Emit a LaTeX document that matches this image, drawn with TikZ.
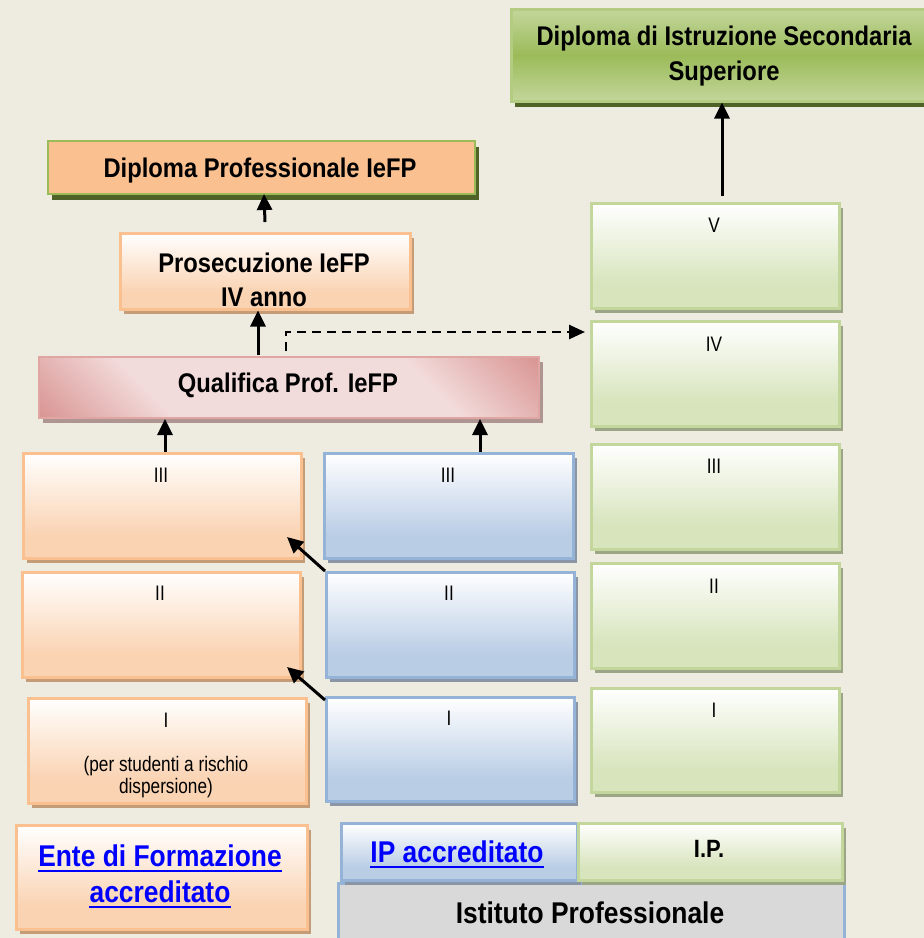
\documentclass[tikz,border=0pt]{standalone}
\usepackage{fontspec}
\newfontfamily\bigf{Liberation Sans}[FakeStretch=0.88]
\newfontfamily\smallf{Liberation Sans}[FakeStretch=0.82]
\usetikzlibrary{arrows.meta,shadows}
\definecolor{bg}{HTML}{EEECE1}
\definecolor{oB}{HTML}{FAC090}
\definecolor{oF}{HTML}{FAD3B2}
\definecolor{oS}{HTML}{C49C78}
\definecolor{bB}{HTML}{95B3D7}
\definecolor{bF}{HTML}{B9CDE5}
\definecolor{bS}{HTML}{8A95A5}
\definecolor{gB}{HTML}{C3D69B}
\definecolor{gF}{HTML}{D7E4BC}
\definecolor{gS}{HTML}{9CA585}
\definecolor{gL}{HTML}{C3D69B}
\definecolor{dG}{HTML}{4F6228}
\definecolor{mG}{HTML}{9BBB59}
\definecolor{pD}{HTML}{D99694}
\definecolor{pL}{HTML}{F2DCDB}
\definecolor{pS}{HTML}{AE9592}
\definecolor{gry}{HTML}{D9D9D9}
\definecolor{lnk}{HTML}{0000FF}
\pgfdeclareverticalshading{osh}{100bp}{color(0bp)=(oF); color(36bp)=(oF); color(75bp)=(white); color(100bp)=(white)}
\pgfdeclareverticalshading{bsh}{100bp}{color(0bp)=(bF); color(36bp)=(bF); color(75bp)=(white); color(100bp)=(white)}
\pgfdeclareverticalshading{gsh}{100bp}{color(0bp)=(gF); color(36bp)=(gF); color(75bp)=(white); color(100bp)=(white)}
\pgfdeclareverticalshading{dish}{100bp}{color(0bp)=(gL); color(25bp)=(gL); color(50bp)=(mG); color(75bp)=(gL); color(100bp)=(gL)}
\pgfdeclareverticalshading{psh}{100bp}{color(0bp)=(pD); color(15bp)=(pD); color(32bp)=(pL); color(68bp)=(pL); color(85bp)=(pD); color(100bp)=(pD)}
\tikzset{
  box/.style={rectangle, inner sep=0pt, anchor=north west, line width=2.5pt},
  obox/.style={box, draw=oB, shading=osh, drop shadow={shadow xshift=4pt, shadow yshift=-5pt, fill=oS, opacity=1}},
  bbox/.style={box, draw=bB, shading=bsh, drop shadow={shadow xshift=4pt, shadow yshift=-5pt, fill=bS, opacity=1}},
  gbox/.style={box, draw=gB, shading=gsh, drop shadow={shadow xshift=4pt, shadow yshift=-5pt, fill=gS, opacity=1}},
  lab/.style={inner sep=0pt, anchor=base, font=\smallf\fontsize{21}{25}\selectfont},
  big/.style={inner sep=0pt, anchor=base, font=\bigf\bfseries\fontsize{27}{35}\selectfont},
  lnkt/.style={inner sep=0pt, anchor=base, text=lnk, font=\bigf\bfseries\fontsize{30}{36}\selectfont},
  ul/.style={draw=lnk, line width=2.6pt},
  arr/.style={draw=black, line width=3pt, -{Triangle[length=16pt,width=15pt]}},
  darr/.style={draw=black, line width=2.6pt, dash pattern=on 9pt off 6pt, -{Triangle[length=16pt,width=14pt]}}
}
\begin{document}
\begin{tikzpicture}[x=1pt,y=-1pt]
\useasboundingbox (0,0) rectangle (924,938);
\clip (0,0) rectangle (924,938);
\fill[bg] (0,0) rectangle (924,938);

% top right diploma
\node[box, draw=mG!75!white, shading=dish, minimum width=426pt, minimum height=92pt,
  drop shadow={shadow xshift=4pt, shadow yshift=-6pt, fill=dG, opacity=1}] (dis) at (510,8) {};
\node[big] (dist1) at (724,45) {Diploma di Istruzione Secondaria};
\node[big] (dist2) at (724,80) {Superiore};

% diploma professionale
\node[box, draw=mG, fill=oB, line width=2pt, minimum width=427pt, minimum height=53pt,
  drop shadow={shadow xshift=4pt, shadow yshift=-6pt, fill=dG, opacity=1}] (dpi) at (47,140) {};
\node[big] (dpit) at (260,177) {Diploma Professionale IeFP};

% prosecuzione
\node[obox, minimum width=290pt, minimum height=76pt] (pro) at (119,232) {};
\node[big] (prot1) at (264,272) {Prosecuzione IeFP};
\node[big] (prot2) at (264,306) {IV anno};

% qualifica
\node[box, draw=pD!85!white, line width=2pt, shading=psh, shading angle=-45, minimum width=500pt, minimum height=61pt,
  drop shadow={shadow xshift=4pt, shadow yshift=-5pt, fill=pS, opacity=1}] (qual) at (38,356) {};
\node[big] (qualt) at (288,392) {Qualifica Prof. IeFP};

% orange column
\node[obox, minimum width=278pt, minimum height=105pt] (o3) at (22,452) {};
\node[lab] (o3t) at (161,482) {III};
\node[obox, minimum width=278pt, minimum height=105pt] (o2) at (21,571) {};
\node[lab] (o2t) at (160,600) {II};
\node[obox, minimum width=278pt, minimum height=105pt] (o1) at (27,697) {};
\node[lab] (o1t) at (166,727) {I};
\node[lab] (o1a) at (166,771) {(per studenti a rischio};
\node[lab] (o1b) at (166,793) {dispersione)};

% blue column
\node[bbox, minimum width=249pt, minimum height=105pt] (b3) at (323,452) {};
\node[lab] (b3t) at (448,482) {III};
\node[bbox, minimum width=248pt, minimum height=105pt] (b2) at (325,571) {};
\node[lab] (b2t) at (449,600) {II};
\node[bbox, minimum width=248pt, minimum height=104pt] (b1) at (325,696) {};
\node[lab] (b1t) at (449,725) {I};

% green column
\node[gbox, minimum width=248pt, minimum height=105pt] (g5) at (590,202) {};
\node[lab] (g5t) at (714,232) {V};
\node[gbox, minimum width=248pt, minimum height=105pt] (g4) at (590,320) {};
\node[lab] (g4t) at (714,351) {IV};
\node[gbox, minimum width=248pt, minimum height=105pt] (g3) at (590,443) {};
\node[lab] (g3t) at (714,473) {III};
\node[gbox, minimum width=248pt, minimum height=105pt] (g2) at (590,562) {};
\node[lab] (g2t) at (714,593) {II};
\node[gbox, minimum width=248pt, minimum height=104pt] (g1) at (590,687) {};
\node[lab] (g1t) at (714,717) {I};

% bottom legend
\node[box, draw=bB, fill=gry, minimum width=506pt, minimum height=70pt] (ist) at (337,882) {};
\node[lnkt, text=black] (istt) at (590,923) {Istituto Professionale};
\node[obox, minimum width=291pt, minimum height=104pt] (ente) at (15,824) {};
\node[lnkt] (ent1) at (160,866) {Ente di Formazione};
\node[lnkt] (ent2) at (160,902) {accreditato};
\draw[ul] ([yshift=-5pt]ent1.base west) -- ([yshift=-5pt]ent1.base east);
\draw[ul] ([yshift=-5pt]ent2.base west) -- ([yshift=-5pt]ent2.base east);
\node[bbox, minimum width=236pt, minimum height=57pt] (ipa) at (340,822) {};
\node[lnkt] (ipat) at (457,862) {IP accreditato};
\draw[ul] ([yshift=-5pt]ipat.base west) -- ([yshift=-5pt]ipat.base east);
\node[gbox, minimum width=264pt, minimum height=57pt] (ip) at (577,822) {};
\node[big, font=\bigf\bfseries\fontsize{25}{30}\selectfont] (ipt) at (709,857) {I.P.};

% connectors
\coordinate (c1) at (722,196);
\draw[arr] (c1) -- (c1 |- dis.south);
\coordinate (c2) at (265,222);
\draw[arr] (c2) -- (264,194);
\coordinate (c3) at (258,355);
\draw[arr] (c3) -- (c3 |- pro.south);
\coordinate (c4) at (165,452);
\draw[arr] (c4) -- (c4 |- qual.south);
\coordinate (c5) at (480,452);
\draw[arr] (c5) -- (c5 |- qual.south);
\coordinate (c6) at (287,537);
\draw[arr] (b2.north west) -- (c6);
\coordinate (c7) at (287,667);
\draw[arr] ([yshift=-4pt]b1.north west) -- (c7);
\coordinate (c8) at (286,351);
\coordinate (c9) at (585,332);
\draw[darr] (c8) |- (c9);
\end{tikzpicture}
\end{document}
